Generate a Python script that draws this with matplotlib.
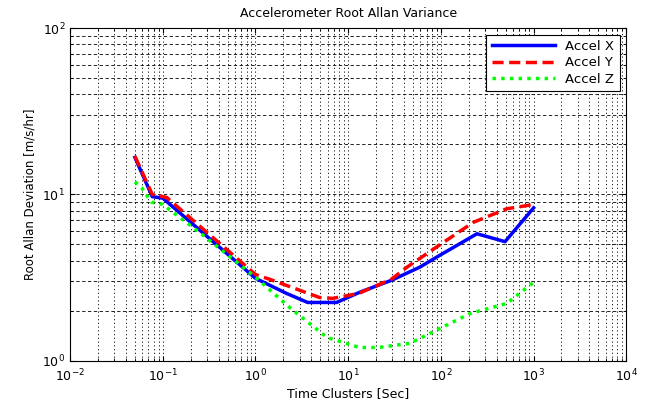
"""Accelerometer root Allan variance plot."""

import matplotlib
matplotlib.use("Agg")
import matplotlib.pyplot as plt
from matplotlib.ticker import NullFormatter

# Accel X
tau_x = [0.05, 0.077, 0.1, 1.0, 2.16, 3.65, 7.5, 13.3, 29.5, 59, 97, 245, 492, 1000]
adev_x = [16.7, 9.7, 9.5, 3.13, 2.54, 2.24, 2.24, 2.58, 3.05, 3.65, 4.3, 5.8, 5.2, 8.3]

# Accel Y
tau_y = [0.05, 0.077, 0.11, 1.0, 1.42, 4.9, 6.8, 13, 29.5, 43, 97, 224, 513, 1000]
adev_y = [17.0, 10.0, 9.6, 3.3, 3.09, 2.4, 2.37, 2.54, 3.1, 3.65, 4.97, 6.8, 8.2, 8.7]

# Accel Z
tau_z = [0.05, 0.059, 0.075, 0.1, 0.27, 1.0, 2.33, 5.9, 13.3, 21, 46, 97, 206, 513, 1000]
adev_z = [11.9, 11.0, 9.0, 8.7, 5.7, 3.18, 2.09, 1.38, 1.2, 1.2, 1.27, 1.56, 1.92, 2.21, 2.96]

figure = plt.figure(figsize=(6.49, 4.03), dpi=100)
ax = figure.add_axes([0.108, 0.105, 0.857, 0.825])

ax.loglog(tau_x, adev_x, color=(0, 0, 1), linewidth=2.5, label="Accel X")
ax.loglog(tau_y, adev_y, color=(1, 0, 0), linewidth=2.5, linestyle=(0, (3.2, 1.6)), label="Accel Y")
ax.loglog(tau_z, adev_z, color=(0, 1, 0), linewidth=2.5, linestyle=(0, (1, 1.5)), label="Accel Z")

ax.set_xlim(1e-2, 1e4)
ax.set_ylim(1e0, 1e2)
ax.xaxis.set_minor_formatter(NullFormatter())
ax.yaxis.set_minor_formatter(NullFormatter())

ax.grid(True, which="both", axis="y", color="black", linestyle=(0, (4, 3)), linewidth=0.6)
ax.grid(True, which="both", axis="x", color="black", linestyle=(0, (1.5, 3)), linewidth=0.6)
ax.tick_params(which="both", direction="in", top=True, right=True, labelsize=9)
ax.tick_params(axis="x", pad=5)
for spine in ax.spines.values():
    spine.set_linewidth(0.8)

ax.set_title("Accelerometer Root Allan Variance", fontsize=9, pad=8)
ax.set_xlabel("Time Clusters [Sec]", fontsize=9, labelpad=2)
ax.set_ylabel("Root Allan Deviation [m/s/hr]", fontsize=8.5)

legend = ax.legend(loc="upper right", fontsize=9.5, fancybox=False, framealpha=1,
                   borderaxespad=0.5, handlelength=4.8, labelspacing=0.25)
legend.get_frame().set_edgecolor("black")
legend.get_frame().set_linewidth(0.8)

figure.savefig("out.png", dpi=100)
plt.close(figure)
